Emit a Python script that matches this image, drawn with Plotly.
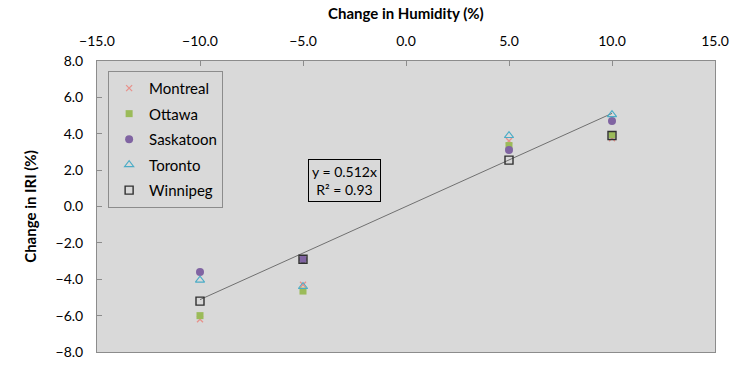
import plotly.graph_objects as go

# Change in humidity (%) for each scenario
humidity = [-10, -5, 5, 10]

# Change in IRI (%) per city
montreal = [-6.2, -4.3, 3.6, 3.75]
ottawa = [-6.0, -4.65, 3.35, 3.95]
saskatoon = [-3.6, -2.9, 3.1, 4.7]
toronto = [-4.05, -4.4, 3.9, 5.05]
winnipeg = [-5.2, -2.9, 2.55, 3.9]

# Linear fit through the origin
slope = 0.512
r_squared = 0.93
fit_x = [-10, 10]

series = [
    ("Montreal", montreal, dict(symbol="x-thin-open", size=6, color="#e8928c", line=dict(width=1.3, color="#e8928c"))),
    ("Ottawa", ottawa, dict(symbol="square", size=7, color="#9bbb59")),
    ("Saskatoon", saskatoon, dict(symbol="circle", size=8, color="#8064a2")),
    ("Toronto", toronto, dict(symbol="triangle-up-open", size=8, color="#4bacc6", line=dict(width=1.1))),
    ("Winnipeg", winnipeg, dict(symbol="square-open", size=8, color="#303030", line=dict(width=1.4))),
]

fig = go.Figure()

fig.add_trace(go.Scatter(
    x=fit_x, y=[slope * v for v in fit_x], mode="lines",
    line=dict(color="#707070", width=1), showlegend=False, hoverinfo="skip",
))

for i, (name, vals, marker) in enumerate(series):
    fig.add_trace(go.Scatter(
        x=humidity, y=vals, mode="markers", name=name,
        marker=marker, legendgroup=f"g{i}",
    ))

fig.add_annotation(
    x=-3.0, y=1.45, xref="x", yref="y",
    text=f"y = {slope}x<br>R² = {r_squared}",
    showarrow=False, font=dict(size=14, color="#000000"),
    bordercolor="#000000", borderwidth=1, borderpad=3,
    bgcolor="#d9d9d9", align="center",
)

# Horizontal axis title above the top tick labels
fig.add_annotation(
    x=0.5, y=1, xref="paper", yref="paper", xanchor="center", yanchor="bottom",
    yshift=37, showarrow=False,
    text="<b>Change in Humidity (%)</b>", font=dict(size=15, color="#000000"),
)

fig.update_layout(
    width=738, height=365,
    margin=dict(l=97, r=23, t=61, b=13),
    paper_bgcolor="#ffffff",
    plot_bgcolor="#d9d9d9",
    font=dict(family="Lato, Open Sans, sans-serif", size=14, color="#000000"),
    legend=dict(
        x=0.018, y=0.966, xanchor="left", yanchor="top",
        bgcolor="#d9d9d9", bordercolor="#8c8c8c", borderwidth=1,
        font=dict(size=15), tracegroupgap=3, itemwidth=30,
    ),
    showlegend=True,
)

fig.update_xaxes(
    side="top", range=[-15, 15], dtick=5, tick0=-15, tickformat=".1f",
    showgrid=False, zeroline=False, showline=True, linecolor="#8c8c8c",
    mirror=True, ticks="inside", ticklen=5, tickcolor="#8c8c8c",
    ticklabelstandoff=8, automargin=False,
    tickfont=dict(size=14),
)
fig.update_yaxes(
    range=[-8, 8], dtick=2, tick0=-8, tickformat=".1f",
    showgrid=False, zeroline=False, showline=True, linecolor="#8c8c8c",
    mirror=True, ticks="inside", ticklen=5, tickcolor="#8c8c8c",
    ticklabelstandoff=10, automargin=False,
    title=dict(text="<b>Change in IRI (%)</b>", font=dict(size=15)),
    tickfont=dict(size=14),
)

fig.write_html("out.html")
